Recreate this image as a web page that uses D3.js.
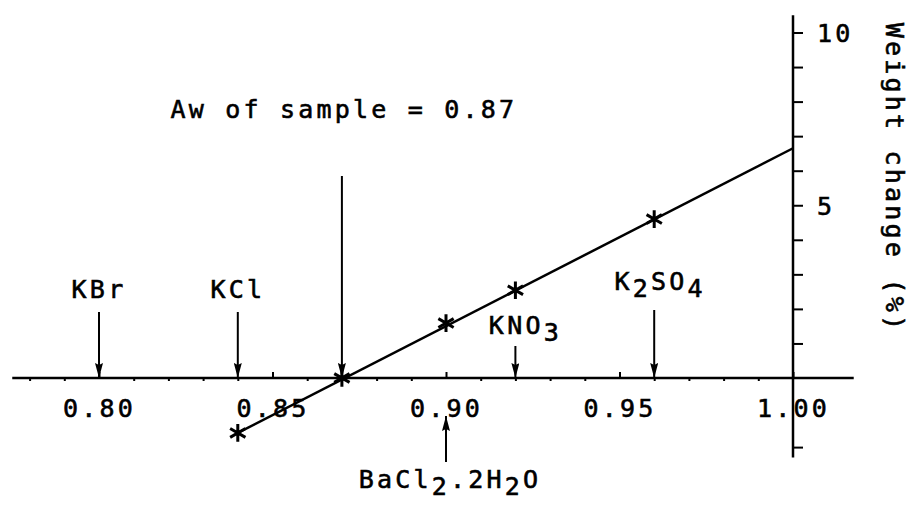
<!DOCTYPE html>
<html>
<head>
<meta charset="utf-8">
<script src="https://cdn.jsdelivr.net/npm/d3@7"></script>
<style>
body { margin: 0; background: #fff; }
text { font-family: "DejaVu Sans Mono", monospace; font-size: 25px; fill: #000; stroke: #000; stroke-width: 0.6px; letter-spacing: 3.2px; }
</style>
</head>
<body>
<svg id="chart" width="909" height="509"></svg>
<script>
// measured points (water activity vs weight change %)
var pointAw     = [0.84, 0.87, 0.90, 0.92, 0.96];
var pointWeight = [-1.59, 0, 1.59, 2.54, 4.6];
// fitted line, read at its two ends
var fitAw     = [0.84, 1.00];
var fitWeight = [-1.59, 6.65];
// reference salts
var saltNames = ["KBr", "KCl", "KNO3", "K2SO4", "BaCl2.2H2O"];
var saltAw    = [0.80, 0.84, 0.92, 0.96, 0.90];
var sampleAw = 0.87;
var sampleLabel = "Aw of sample = 0.87";
// ticks
var xMajorTicks = [0.80, 0.85, 0.90, 0.95, 1.00];
var xMinorTicks = [0.78, 0.79, 0.81, 0.82, 0.83, 0.84, 0.86, 0.87, 0.88, 0.89,
                   0.91, 0.92, 0.93, 0.94, 0.96, 0.97, 0.98, 0.99];
var yTicks  = [-2, 1, 2, 3, 4, 5, 6, 7, 8, 9, 10];
var yLabels = [5, 10];
var yTitle = "Weight change (%)";

var conf = {
    axisY: 378,
    axisX: 793,
    xLeft: 0.775, xRight: 1.0175,
    yBottom: -2.3, yTop: 10.5,
    stroke: 2.5
};
// label placement for each salt: label baseline, label x shift, arrow start / end y
var saltLayout = [
    {ty: 298, dx: 0,  y1: 312, y2: 378},
    {ty: 298, dx: 0,  y1: 312, y2: 378},
    {ty: 334, dx: 10, y1: 346, y2: 378},
    {ty: 290, dx: 6,  y1: 310, y2: 378},
    {ty: 488, dx: 4,  y1: 462, y2: 416}
];
var sampleLayout = {ty: 118, dx: 2, y1: 176, y2: 378};

var svg = d3.select("#chart");

var x = d3.scaleLinear().domain([0.80, 1.00]).range([99, 793]);
var y = d3.scaleLinear().domain([0, 10]).range([378, 32.5]);

svg.append("defs").append("marker")
    .attr("id", "arrowhead")
    .attr("markerUnits", "userSpaceOnUse")
    .attr("viewBox", "0 0 15 8")
    .attr("refX", 15)
    .attr("refY", 4)
    .attr("markerWidth", 15)
    .attr("markerHeight", 8)
    .attr("orient", "auto")
    .append("path")
    .attr("d", "M0,0 L15,4 L0,8 L2,4 Z")
    .attr("fill", "#000");

// x axis line
svg.append("line")
    .attr("x1", x(conf.xLeft)).attr("x2", x(conf.xRight))
    .attr("y1", conf.axisY).attr("y2", conf.axisY)
    .attr("stroke", "#000").attr("stroke-width", conf.stroke);

// y axis line
svg.append("line")
    .attr("x1", conf.axisX).attr("x2", conf.axisX)
    .attr("y1", y(conf.yTop)).attr("y2", y(conf.yBottom))
    .attr("stroke", "#000").attr("stroke-width", conf.stroke);

// major x ticks point up, labels below
var xMajor = svg.append("g")
    .attr("transform", "translate(0," + conf.axisY + ")")
    .call(d3.axisBottom(x).tickValues(xMajorTicks).tickSize(-6).tickPadding(21)
        .tickFormat(d3.format(".2f")));
// minor x ticks point down
var xMinor = svg.append("g")
    .attr("transform", "translate(0," + conf.axisY + ")")
    .call(d3.axisBottom(x).tickValues(xMinorTicks).tickSize(3).tickFormat(""));

var yAxis = svg.append("g")
    .attr("transform", "translate(" + conf.axisX + ",0)")
    .call(d3.axisRight(y).tickValues(yTicks).tickSize(10).tickPadding(14)
        .tickFormat(function(d){ return yLabels.indexOf(d) >= 0 ? d : ""; }));

[xMajor, xMinor, yAxis].forEach(function(g){
    g.select(".domain").remove();
    g.selectAll(".tick line").attr("stroke", "#000").attr("stroke-width", 2);
    g.selectAll("text").attr("font-family", null).attr("font-size", null).attr("fill", "#000");
});
yAxis.selectAll(".tick text").attr("dy", "0.36em");

// y axis title, rotated
svg.append("text")
    .attr("transform", "translate(894," + 178 + ") rotate(90)")
    .attr("text-anchor", "middle")
    .attr("dominant-baseline", "central")
    .text(yTitle);

// fitted line
var line = d3.line()
    .x(function(d){ return x(d[0]); })
    .y(function(d){ return y(d[1]); });
svg.append("path")
    .datum(d3.zip(fitAw, fitWeight))
    .attr("d", line)
    .attr("fill", "none")
    .attr("stroke", "#000")
    .attr("stroke-width", conf.stroke);

// asterisk markers
svg.selectAll(".pt")
    .data(d3.zip(pointAw, pointWeight))
    .enter().append("path")
    .attr("class", "pt")
    .attr("transform", function(d){ return "translate(" + x(d[0]) + "," + y(d[1]) + ")"; })
    .attr("d", d3.symbol().type(d3.symbolAsterisk).size(220))
    .attr("fill", "none")
    .attr("stroke", "#000")
    .attr("stroke-width", 3);

// split a formula so digits right after a letter become subscripts
var formulaParts = function(name){
    var parts = [];
    for (var i = 0; i < name.length; i++) {
        var ch = name[i];
        var sub = /\d/.test(ch) && i > 0 && /[A-Za-z]/.test(name[i-1]);
        parts.push({t: ch, sub: sub});
    }
    return parts;
};

var drawArrowLabel = function(xPos, lay, parts){
    svg.append("line")
        .attr("x1", xPos).attr("x2", xPos)
        .attr("y1", lay.y1).attr("y2", lay.y2)
        .attr("stroke", "#000").attr("stroke-width", 2)
        .attr("marker-end", "url(#arrowhead)");
    var t = svg.append("text")
        .attr("x", xPos + lay.dx)
        .attr("y", lay.ty)
        .attr("text-anchor", "middle");
    var prevSub = false;
    parts.forEach(function(p){
        var dy = 0;
        if (p.sub && !prevSub) dy = 7;
        if (!p.sub && prevSub) dy = -7;
        t.append("tspan").attr("dy", dy).text(p.t);
        prevSub = p.sub;
    });
};

saltNames.forEach(function(name, i){
    drawArrowLabel(x(saltAw[i]), saltLayout[i], formulaParts(name));
});
drawArrowLabel(x(sampleAw), sampleLayout, [{t: sampleLabel, sub: false}]);
</script>
</body>
</html>
